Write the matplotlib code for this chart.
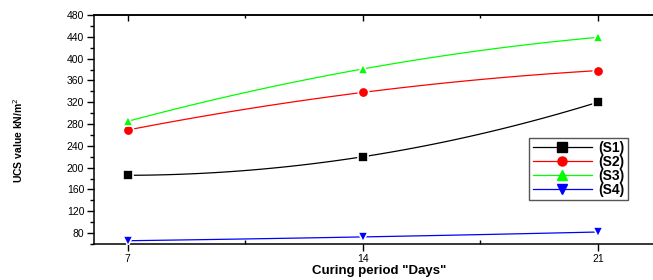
import numpy as np
import matplotlib
matplotlib.use("Agg")
import matplotlib.pyplot as plt
from matplotlib.ticker import MultipleLocator

plt.rcParams['font.family'] = ['Liberation Sans', 'DejaVu Sans']

days = [7, 14, 21]
s1 = [186, 220, 320]
s2 = [269, 338, 378]
s3 = [285, 381, 439]
s4 = [66, 73, 82]
labels = ["(S1)", "(S2)", "(S3)", "(S4)"]
colors = ["black", "red", "#00ff00", "blue"]
markers = ["s", "o", "^", "v"]

fig = plt.figure(figsize=(6.53, 2.8), dpi=100)
ax = fig.add_axes([94/653, 36/280, 571/653, 229/280])

# smooth curve through the three points (Origin style spline)
xs = np.linspace(days[0], days[-1], 100)
for ys, lab, c, m in zip([s1, s2, s3, s4], labels, colors, markers):
    coef = np.polyfit(days, ys, 2)
    ax.plot(xs, np.polyval(coef, xs), color=c, lw=0.9, zorder=2)
    ax.plot(days, ys, linestyle="none", marker=m, color=c, markersize=7.5,
            markeredgecolor="white", markeredgewidth=1.2, zorder=3)

# legend handles
handles = [plt.Line2D([], [], color=c, lw=0.9, marker=m, markersize=6.5,
                      markeredgecolor=c) for c, m in zip(colors, markers)]
leg = ax.legend(handles, labels, loc="upper left", bbox_to_anchor=(0.762, 0.465),
                prop={'weight': 'bold', 'size': 10}, fancybox=False,
                edgecolor="#555555", framealpha=1, handlelength=4.3,
                handletextpad=0.45, borderpad=0.25, labelspacing=0.0,
                borderaxespad=0)
leg.get_frame().set_linewidth(1.0)

ax.set_xlim(6, 23)
ax.set_ylim(60, 480)
ax.set_xticks(days)
ax.xaxis.set_minor_locator(MultipleLocator(3.5))
ax.yaxis.set_minor_locator(MultipleLocator(20))
ax.set_yticks(np.arange(80, 481, 40))

ax.tick_params(axis='y', which='major', direction='out', length=5, width=1, labelsize=7.5, pad=2)
ax.tick_params(axis='y', which='minor', direction='out', length=3, width=1)
ax.tick_params(axis='x', which='major', direction='out', length=5, width=1, labelsize=7.5, pad=2)
ax.tick_params(axis='x', which='minor', direction='in', length=3, width=1)
for sp in ax.spines.values():
    sp.set_linewidth(1.1)

# top axis ticks point inward
top = ax.secondary_xaxis('top')
top.set_xticks(days)
top.xaxis.set_minor_locator(MultipleLocator(3.5))
top.tick_params(which='major', direction='in', length=4, width=1, labeltop=False)
top.tick_params(which='minor', direction='in', length=2.5, width=1)
top.spines['top'].set_linewidth(1.1)

ax.set_xlabel('Curing period "Days"', fontsize=9.5, fontweight='bold', labelpad=1)
fig.text(0.027, 0.5, "UCS value kN/m$^2$", rotation=90, fontsize=7.5,
         fontweight='bold', ha='center', va='center')

fig.savefig("out.png", dpi=100)
